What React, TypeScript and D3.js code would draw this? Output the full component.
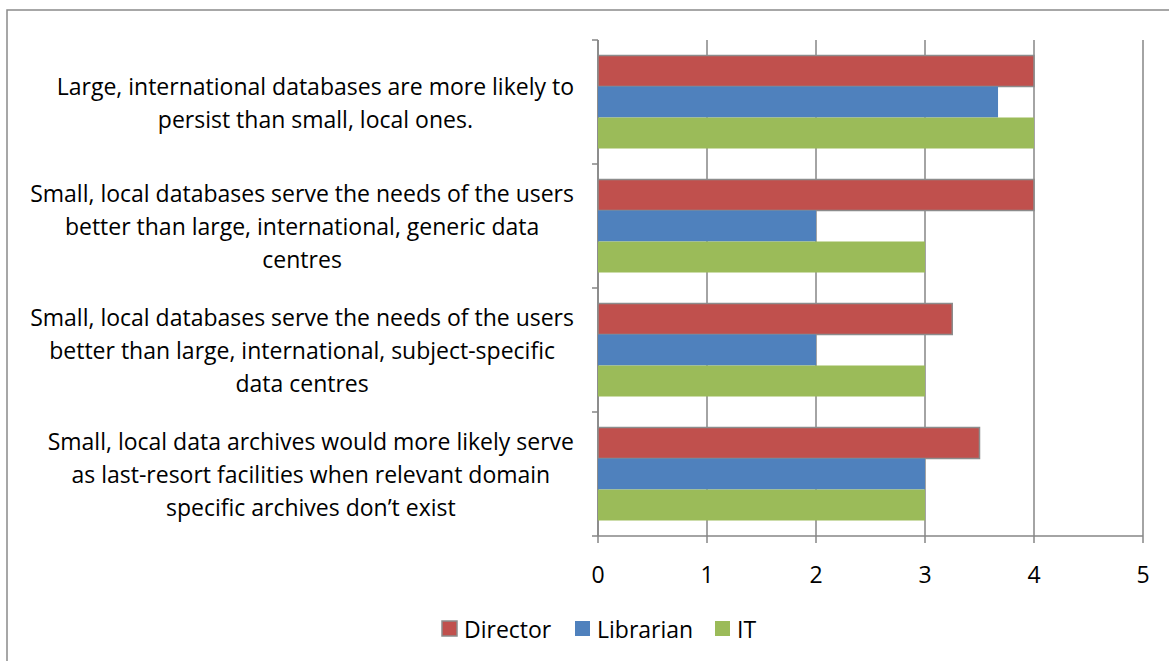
import React from "react";
import * as d3 from "d3";

const categories = [
  "Large, international databases are more likely to persist than small, local ones.",
  "Small, local databases serve the needs of the users better than large, international, generic data centres",
  "Small, local databases serve the needs of the users better than large, international, subject-specific data centres",
  "Small, local data archives would more likely serve as last-resort facilities when relevant domain specific archives don’t exist",
];
const categoryLines = [
  ["Large, international databases are more likely to", "persist than small, local ones."],
  ["Small, local databases serve the needs of the users", "better than large, international, generic data", "centres"],
  ["Small, local databases serve the needs of the users", "better than large, international, subject-specific", "data centres"],
  ["Small, local data archives would more likely serve", "as last-resort facilities when relevant domain", "specific archives don’t exist"],
];
const seriesNames = ["Director", "Librarian", "IT"];
const director = [4, 4, 3.25, 3.5];
const librarian = [3.67, 2, 2, 3];
const it = [4, 3, 3, 3];
const seriesValues = [director, librarian, it];
const xTicks = [0, 1, 2, 3, 4, 5];
const colors = ["#C0504D", "#4F81BD", "#9BBB59"];

const FONT = "'Open Sans', sans-serif";
const FS = 23;

function measure(text: string, size: number) {
  const c = document.createElement("canvas").getContext("2d")!;
  c.font = `${size}px 'Open Sans'`;
  return c.measureText(text).width;
}

export default function App() {
  const W = 1169, H = 661;
  const left = 598, right = 1143, top = 40, bottom = 536;
  const x = d3.scaleLinear().domain([0, 5]).range([left, right]);
  const y = d3.scaleBand<string>().domain(categories).range([top, bottom]).paddingInner(0.25).paddingOuter(0.125);
  const ys = d3.scaleBand<string>().domain(seriesNames).range([0, y.bandwidth()]);
  const step = y.step();
  const grid = "#868686";
  const lineH = 33;
  const labelRight = 574;

  const legendItems = [
    { name: "Director", x: 442 },
    { name: "Librarian", x: 575 },
    { name: "IT", x: 715 },
  ];

  return (
    <svg width={W} height={H} style={{ position: "absolute", left: 0, top: 0, background: "#fff" }} fontFamily={FONT}>
      <rect x={7} y={10} width={W} height={H} fill="#fff" stroke="#8a8a8a" strokeWidth={1.5} />
      {xTicks.map((t) => (
        <line key={"g" + t} x1={x(t)} x2={x(t)} y1={top} y2={bottom + 7} stroke={grid} strokeWidth={1.5} />
      ))}
      <line x1={left} x2={left} y1={top} y2={bottom} stroke={grid} strokeWidth={1.5} />
      {d3.range(categories.length + 1).map((i) => (
        <line key={"yt" + i} x1={left - 6} x2={left} y1={top + i * step} y2={top + i * step} stroke={grid} strokeWidth={1.5} />
      ))}
      <line x1={left} x2={right} y1={bottom} y2={bottom} stroke={grid} strokeWidth={1.5} />
      {xTicks.map((t) => (
        <text key={"xl" + t} x={x(t)} y={574} textAnchor="middle" dominantBaseline="central" fontSize={FS} fill="#000">
          {t}
        </text>
      ))}
      {categories.map((c, ci) =>
        seriesNames.map((s, si) => (
          <rect
            key={c + s}
            x={x(0)}
            y={(y(c) as number) + (ys(s) as number)}
            width={x(seriesValues[si][ci]) - x(0)}
            height={ys.bandwidth()}
            fill={colors[si]}
            stroke={si === 0 ? "#8c8c8c" : "none"}
            strokeWidth={1.5}
          />
        ))
      )}
      {categories.map((c, ci) => {
        const lines = categoryLines[ci];
        const maxW = Math.max(...lines.map((l) => measure(l, FS)));
        const cx = labelRight - maxW / 2;
        const cy = (y(c) as number) + y.bandwidth() / 2;
        const y0 = cy - ((lines.length - 1) * lineH) / 2;
        return lines.map((l, li) => (
          <text key={c + li} x={cx} y={y0 + li * lineH} textAnchor="middle" dominantBaseline="central" fontSize={FS} fill="#000">
            {l}
          </text>
        ));
      })}
      {legendItems.map((it2, i) => (
        <g key={it2.name}>
          <rect x={it2.x} y={621} width={15} height={15} fill={colors[i]} stroke={i === 0 ? "#8c8c8c" : "none"} strokeWidth={1.5} />
          <text x={it2.x + 22} y={629} dominantBaseline="central" fontSize={FS} fill="#000">
            {it2.name}
          </text>
        </g>
      ))}
    </svg>
  );
}
